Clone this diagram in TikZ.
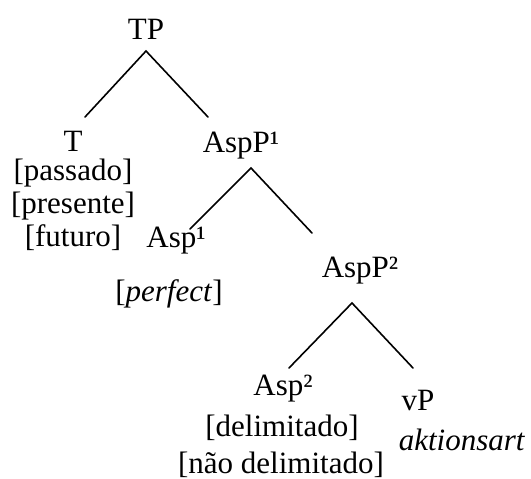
\documentclass[tikz,border=0pt]{standalone}
\usepackage{fontspec}
\setmainfont{Liberation Serif}
\begin{document}
\begin{tikzpicture}[x=1pt,y=-1pt,
  lbl/.style={inner sep=0pt, anchor=base, font=\fontsize{31}{34}\selectfont},
  branch/.style={line width=1.6pt, line cap=round}]
\useasboundingbox (0,0) rectangle (531,479);
% labels
\node[lbl] (tp) at (146,39) {TP};
\node[lbl] (t) at (73,151) {T};
\node[lbl] (tpas) at (73,180) {[passado]};
\node[lbl] (tpre) at (73,213) {[presente]};
\node[lbl] (tfut) at (73,246) {[futuro]};
\node[lbl] (aspp1) at (241,152) {AspP¹};
\node[lbl] (asp1) at (176,247) {Asp¹};
\node[lbl] (perf) at (169,301) {[\textit{perfect}]};
\node[lbl] (aspp2) at (360,277) {AspP²};
\node[lbl] (asp2) at (283,395) {Asp²};
\node[lbl] (delim) at (282,436) {[delimitado]};
\node[lbl] (ndelim) at (281,473) {[não delimitado]};
\node[lbl] (vp) at (418,410) {vP};
\node[lbl] (akt) at (462,450) {\textit{aktionsart}};
% branch points
\coordinate (tpa) at (146,51);
\coordinate (tpl) at (85,117);
\coordinate (tpr) at (208,117);
\coordinate (a1a) at (251,168);
\coordinate (a1l) at (190,229);
\coordinate (a1r) at (312,233);
\coordinate (a2a) at (352,303);
\coordinate (a2l) at (289,368);
\coordinate (a2r) at (413,368);
\draw[branch] (tpl) -- (tpa) -- (tpr);
\draw[branch] (a1l) -- (a1a) -- (a1r);
\draw[branch] (a2l) -- (a2a) -- (a2r);
\end{tikzpicture}
\end{document}
